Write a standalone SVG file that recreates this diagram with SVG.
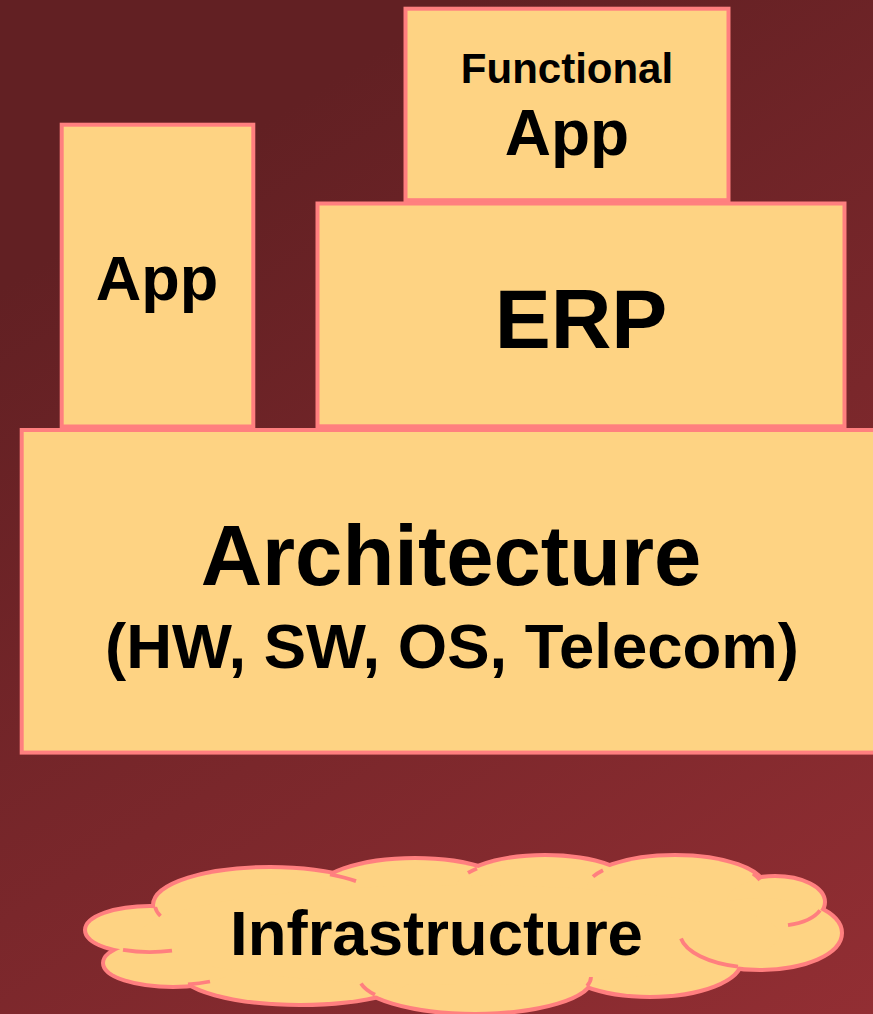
<svg xmlns="http://www.w3.org/2000/svg" width="873" height="1014" viewBox="0 0 873 1014">
  <defs>
    <linearGradient id="bg" gradientUnits="userSpaceOnUse" x1="300" y1="100" x2="873" y2="1014">
      <stop offset="0" stop-color="#622023"/>
      <stop offset="1" stop-color="#922e33"/>
    </linearGradient>
    <style>
      .box { fill: #FED383; stroke: #FF7F7F; stroke-width: 4; }
      .lbl { font-family: "Liberation Sans", Arial, sans-serif; font-weight: bold; fill: #000; text-anchor: middle; }
      .lobe-edge ellipse { fill: none; stroke: #FF7F7F; stroke-width: 8; }
      .lobe-body ellipse { fill: #FED383; stroke: none; }
      .crease { fill: none; stroke: #FF7F7F; stroke-width: 3.8; stroke-linecap: butt; }
    </style>
  </defs>

  <!-- backdrop -->
  <rect x="0" y="0" width="873" height="1014" fill="url(#bg)"/>

  <!-- layer stack: no connectors in this drawing -->
  <g id="connectors"/>

  <g id="functional-app">
    <rect class="box" x="405.5" y="8.7" width="323" height="191.5"/>
    <text class="lbl" x="567" y="83" font-size="42">Functional</text>
    <text class="lbl" x="567" y="155" font-size="64">App</text>
  </g>

  <g id="app">
    <rect class="box" x="61.7" y="124.7" width="191.6" height="301.8"/>
    <text class="lbl" x="157" y="300" font-size="63">App</text>
  </g>

  <g id="erp">
    <rect class="box" x="317.5" y="203.5" width="527" height="222.8"/>
    <text class="lbl" x="581" y="348" font-size="84">ERP</text>
  </g>

  <g id="architecture">
    <rect class="box" x="21.7" y="430" width="870" height="322.6"/>
    <text class="lbl" x="451" y="585" font-size="85">Architecture</text>
    <text class="lbl" x="452" y="668" font-size="63.5">(HW, SW, OS, Telecom)</text>
  </g>

  <!-- cloud: outer rim from stroked lobes, then lobe fills hide the inner rims -->
  <g id="infrastructure">
    <g class="lobe-edge">
      <ellipse cx="150" cy="930" rx="63" ry="22"/>
      <ellipse cx="270" cy="905" rx="115" ry="36"/>
      <ellipse cx="415" cy="895" rx="100" ry="35"/>
      <ellipse cx="545" cy="890" rx="90" ry="33"/>
      <ellipse cx="675" cy="888" rx="88" ry="31"/>
      <ellipse cx="775" cy="902" rx="48" ry="24"/>
      <ellipse cx="760" cy="933" rx="80" ry="35"/>
      <ellipse cx="650" cy="960" rx="90" ry="35"/>
      <ellipse cx="475" cy="977" rx="116" ry="35"/>
      <ellipse cx="300" cy="970" rx="120" ry="33"/>
      <ellipse cx="173" cy="963" rx="68" ry="22"/>
    </g>
    <g class="lobe-body">
      <ellipse cx="150" cy="930" rx="63" ry="22"/>
      <ellipse cx="270" cy="905" rx="115" ry="36"/>
      <ellipse cx="415" cy="895" rx="100" ry="35"/>
      <ellipse cx="545" cy="890" rx="90" ry="33"/>
      <ellipse cx="675" cy="888" rx="88" ry="31"/>
      <ellipse cx="775" cy="902" rx="48" ry="24"/>
      <ellipse cx="760" cy="933" rx="80" ry="35"/>
      <ellipse cx="650" cy="960" rx="90" ry="35"/>
      <ellipse cx="475" cy="977" rx="116" ry="35"/>
      <ellipse cx="300" cy="970" rx="120" ry="33"/>
      <ellipse cx="173" cy="963" rx="68" ry="22"/>
      <ellipse cx="460" cy="935" rx="320" ry="50"/>
    </g>
    <path class="crease" d="M123,949.9 A63,22 0 0 0 172,950.6"/>
    <path class="crease" d="M155.2,907 A115,36 0 0 0 160.5,916"/>
    <path class="crease" d="M330,874.3 A115,36 0 0 1 356,881.1"/>
    <path class="crease" d="M477,868.4 A90,33 0 0 0 468,872.9"/>
    <path class="crease" d="M603,870.2 A88,31 0 0 0 593,876.7"/>
    <path class="crease" d="M753,873.6 A88,31 0 0 1 760,880"/>
    <path class="crease" d="M820,910.4 A48,24 0 0 1 788,925.1"/>
    <path class="crease" d="M738,966.6 A80,35 0 0 1 681,938.5"/>
    <path class="crease" d="M587,986 A116,35 0 0 0 591,977"/>
    <path class="crease" d="M375,994.7 A116,35 0 0 1 361,983.4"/>
    <path class="crease" d="M188,984.5 A68,22 0 0 0 210,981.5"/>
    <text class="lbl" x="436.5" y="955" font-size="63.5">Infrastructure</text>
  </g>
</svg>
